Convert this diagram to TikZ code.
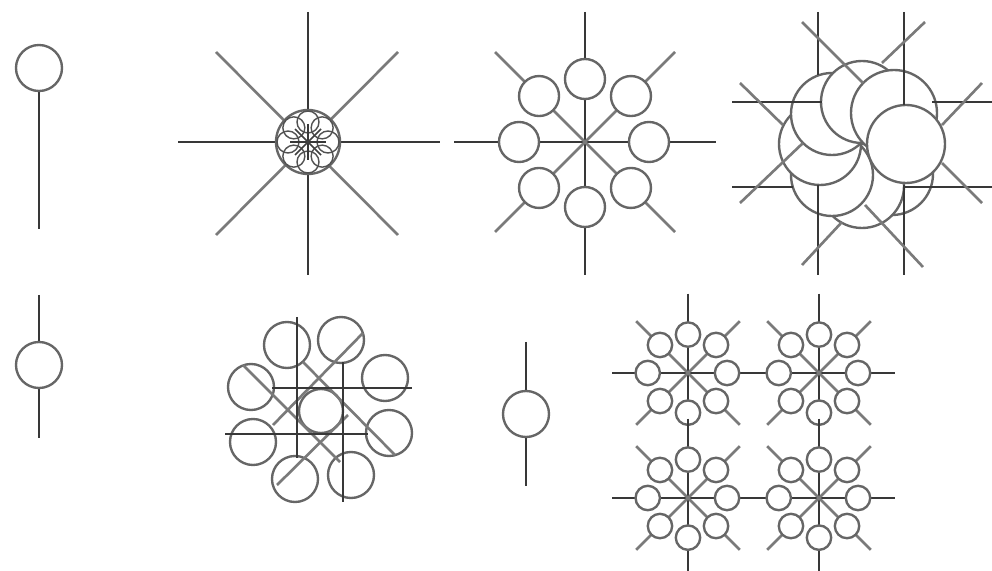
\documentclass[tikz,border=0pt]{standalone}
\usepackage{tikz}

\begin{document}
\begin{tikzpicture}[
    x=0.02cm, y=-0.02cm,
    bar/.style={black!78, line width=1.5pt},
    slant/.style={black!52, line width=1.5pt},
    ring/.style={draw=black!60, fill=white, line width=1.35pt},
    thinring/.style={draw=black!68, fill=white, line width=0.8pt}
]
    \useasboundingbox (0, 0) rectangle (992, 571);

    % --- 1. single units, left column and lower middle ---
    \draw [bar] (39, 90) -- (39, 229);
    \draw [ring] (39, 68) circle (23);

    \draw [bar] (39, 295) -- (39, 438);
    \draw [ring] (39, 365) circle (23);

    \draw [bar] (526, 342) -- (526, 486);
    \draw [ring] (526, 414) circle (23);

    % --- 2. eight tiny rings on the star ---
    \begin{scope}[shift={(308, 142)}]
        \draw [bar] (0, -130) -- (0, 133);
        \draw [bar] (-130, 0) -- (132, 0);
        \draw [slant] (-92, -90) -- (90, 93);
        \draw [slant] (90, -90) -- (-92, 93);
        \draw [ring] (0, 0) circle (32);
        \foreach \ang in {0, 45, ..., 315}
            \draw [thinring, fill=none] (\ang:20) circle (11);
        \draw [bar, line width=0.9pt] (-18, 0) -- (18, 0);
        \draw [bar, line width=0.9pt] (0, -18) -- (0, 18);
        \draw [slant, line width=0.9pt, black!75] (-13, -13) -- (13, 13);
        \draw [slant, line width=0.9pt, black!75] (13, -13) -- (-13, 13);
    \end{scope}

    % --- 3. eight rings on the star, and the same four times smaller ---
    \foreach \cx/\cy/\sc/\hl/\dl in {585/142/1/131/90, 688/373/0.61/124/85, 819/373/0.61/124/85,
                                     688/498/0.61/124/85, 819/498/0.61/124/85} {
        \begin{scope}[shift={(\cx, \cy)}, scale=\sc]
            \draw [bar] (0, -130) -- (0, 133);
            \draw [bar] (-\hl, 0) -- (\hl, 0);
            \draw [slant] (-\dl, -\dl) -- (\dl, \dl);
            \draw [slant] (\dl, -\dl) -- (-\dl, \dl);
            \foreach \ang/\rad in {0/64, 45/65, 90/65, 135/65, 180/66, 225/65, 270/63, 315/65}
                \draw [ring] (\ang:\rad) circle (20);
        \end{scope}
    }

    % --- 4. overlapping rings, the right one on top ---
    \foreach \rx/\ry/\rr in {892/174/41, 862/186/42, 832/175/41, 820/144/41,
                             832/114/41, 862/102/41, 894/113/43, 906/144/39}
        \draw [ring] (\rx, \ry) circle (\rr);

    \foreach \xa/\ya/\xb/\yb in {818/12/818/75, 818/185/818/275, 904/12/904/105, 904/185/904/275,
                                 732/102/822/102, 932/102/992/102, 732/187/793/187, 905/187/992/187}
        \draw [bar] (\xa, \ya) -- (\xb, \yb);

    \foreach \xa/\ya/\xb/\yb in {802/22/863/83, 925/22/882/63, 982/83/942/125, 982/203/942/163,
                                 923/267/865/205, 802/265/842/222, 740/203/803/143, 740/83/783/125}
        \draw [slant] (\xa, \ya) -- (\xb, \yb);

    % --- 5. ring of rings, crossed by straight lines ---
    \foreach \rx/\ry in {287/345, 341/340, 385/378, 389/433, 351/475, 295/479, 253/442, 251/387}
        \draw [ring] (\rx, \ry) circle (23);
    \draw [ring] (321, 411) circle (22);

    \draw [slant] (243, 365) -- (340, 462);
    \draw [slant] (363, 333) -- (273, 425);
    \draw [slant] (303, 362) -- (395, 455);
    \draw [slant] (277, 485) -- (348, 415);

    \draw [bar] (297, 317) -- (297, 458);
    \draw [bar] (343, 362) -- (343, 502);
    \draw [bar] (272, 388) -- (412, 388);
    \draw [bar] (225, 434) -- (368, 434);
\end{tikzpicture}
\end{document}
